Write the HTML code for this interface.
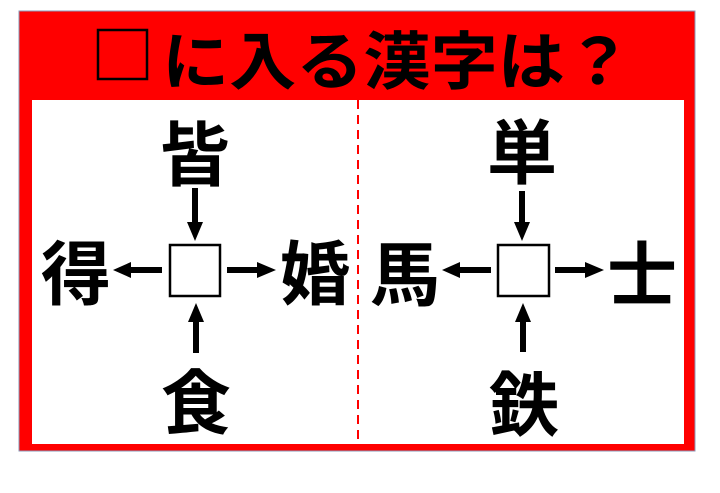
<!DOCTYPE html>
<html><head><meta charset="utf-8"><style>
html,body{margin:0;padding:0;background:#fff;width:720px;height:493px;overflow:hidden}
svg{display:block}
text{font-family:"Liberation Sans","Noto Sans CJK JP",sans-serif;font-weight:bold;fill:#000}
</style></head><body>
<svg width="720" height="493" viewBox="0 0 720 493" xmlns="http://www.w3.org/2000/svg">
<rect x="19" y="11" width="676" height="440" fill="#ff0000" stroke="#8a9ab8" stroke-width="1"/>
<rect x="32" y="100" width="652" height="344" fill="#fff"/>
<line x1="358" y1="100" x2="358" y2="444" stroke="#ff0000" stroke-width="2" stroke-dasharray="9,6"/>
<rect x="98" y="30" width="49" height="49" fill="none" stroke="#000" stroke-width="2.5"/>
<text x="162" y="84" font-size="63" textLength="470" lengthAdjust="spacingAndGlyphs">に入る漢字は？</text>

<g font-size="70" text-anchor="middle">
<text x="195" y="180">皆</text>
<text x="76" y="299">得</text>
<text x="315" y="299">婚</text>
<text x="196" y="428">食</text>
<text x="522" y="178">単</text>
<text x="405" y="300">馬</text>
<text x="642" y="300">士</text>
<text x="524" y="430">鉄</text>
</g>

<rect x="170" y="245" width="50" height="51" fill="#fff" stroke="#000" stroke-width="2.5"/>
<rect x="498" y="245" width="51" height="51" fill="#fff" stroke="#000" stroke-width="2.5"/>

<g stroke="#000" stroke-width="6">
<line x1="195" y1="188" x2="195" y2="224"/>
<line x1="162" y1="270" x2="129" y2="270"/>
<line x1="227" y1="270" x2="260" y2="270"/>
<line x1="196" y1="353" x2="196" y2="320"/>
<line x1="522" y1="191" x2="522" y2="224"/>
<line x1="491" y1="270" x2="458" y2="270"/>
<line x1="555" y1="270" x2="588" y2="270"/>
<line x1="523" y1="352" x2="523" y2="320"/>
</g>
<g fill="#000">
<polygon points="187,222 203,222 195,241"/>
<polygon points="131,262 131,278 113,270"/>
<polygon points="257,262 257,278 276,270"/>
<polygon points="188,322 204,322 196,303"/>
<polygon points="514,222 530,222 522,241"/>
<polygon points="460,262 460,278 442,270"/>
<polygon points="585,262 585,278 604,270"/>
<polygon points="515,322 531,322 523,303"/>
</g>
</svg>
</body></html>
